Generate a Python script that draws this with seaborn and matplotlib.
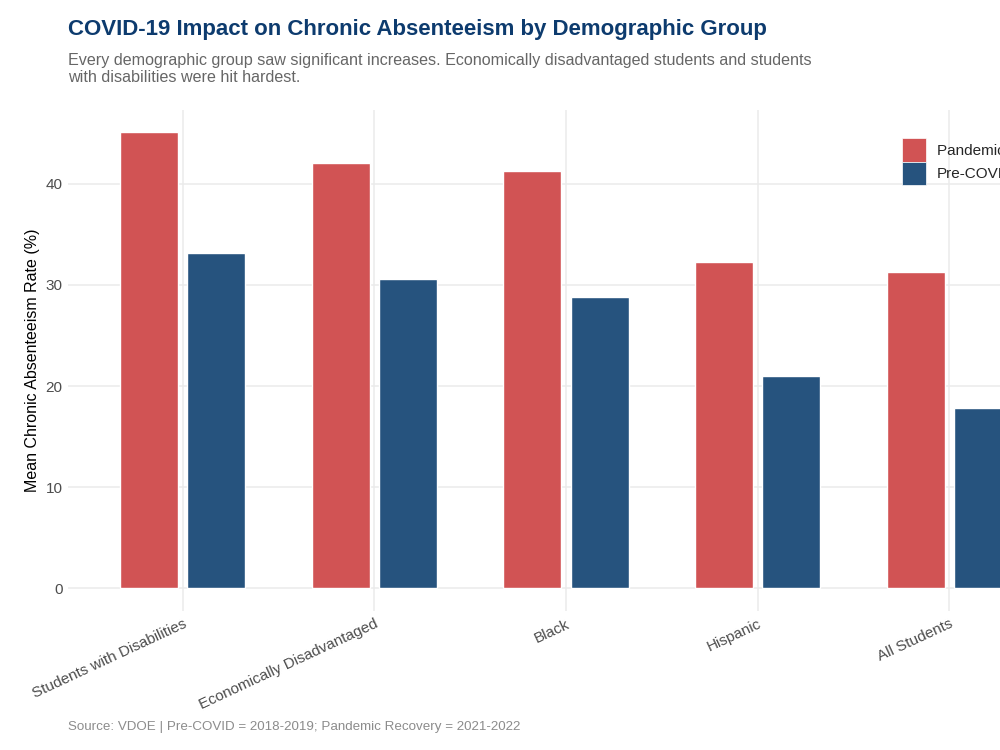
import matplotlib
matplotlib.use("Agg")
import matplotlib.pyplot as plt
import seaborn as sns
import pandas as pd
from matplotlib.patches import Patch

groups = ["Students with Disabilities", "Economically Disadvantaged", "Black", "Hispanic", "All Students"]
pandemic = [45.1, 42.0, 41.2, 32.3, 31.3]
pre_covid = [33.1, 30.6, 28.8, 21.0, 17.8]
periods = ["Pandemic Recovery", "Pre-COVID"]
colors = {"Pandemic Recovery": "#D15354", "Pre-COVID": "#26537E"}

df = pd.DataFrame({
    "group": groups * 2,
    "period": [periods[0]] * len(groups) + [periods[1]] * len(groups),
    "rate": pandemic + pre_covid,
})

sns.set_theme(style="white")
plt.rcParams["font.family"] = ["Liberation Sans", "DejaVu Sans"]

fig = plt.figure(figsize=(10, 7.5), dpi=100)
ax = fig.add_axes([0.068, 0.185, 0.996, 0.668])

sns.barplot(data=df, x="group", y="rate", hue="period", order=groups,
            hue_order=periods, palette=colors, width=0.7, gap=0.135,
            saturation=1, ax=ax, legend=False, zorder=3)

ax.set_xlim(-0.6, 4.6)
ax.set_ylim(-2.25, 47.25)
ax.set_yticks([0, 10, 20, 30, 40])
ax.grid(True, axis="both", color="#EBEBEB", lw=1.1, zorder=0)
ax.set_axisbelow(True)
for s in ax.spines.values():
    s.set_visible(False)
ax.tick_params(axis="both", length=0, labelsize=11, labelcolor="#4D4D4D", pad=4)
ax.set_xlabel("")
ax.set_ylabel("Mean Chronic Absenteeism Rate (%)", fontsize=11.5, color="black", labelpad=4)
plt.setp(ax.get_xticklabels(), rotation=25, ha="right", rotation_mode="anchor")

handles = [Patch(facecolor=colors[p], edgecolor="white", lw=0.5) for p in periods]
fig.legend(handles, periods, loc="upper left", bbox_to_anchor=(0.902, 1 - 138 / 750),
           frameon=False, fontsize=11, labelspacing=0.0, handlelength=1.6,
           handleheight=2.0, handletextpad=0.7, borderaxespad=0, borderpad=0)

fig.text(0.068, 1 - 30 / 750, "COVID-19 Impact on Chronic Absenteeism by Demographic Group",
         fontsize=16, fontweight="bold", color="#0D3B6E", va="center")
fig.text(0.068, 1 - 69 / 750,
         "Every demographic group saw significant increases. Economically disadvantaged students and students\nwith disabilities were hit hardest.",
         fontsize=11.6, color="#666666", va="center", linespacing=1.15)
fig.text(0.068, 1 - 727 / 750, "Source: VDOE | Pre-COVID = 2018-2019; Pandemic Recovery = 2021-2022",
         fontsize=9.6, color="#8C8C8C", va="center")

fig.savefig("out.png", dpi=100)
